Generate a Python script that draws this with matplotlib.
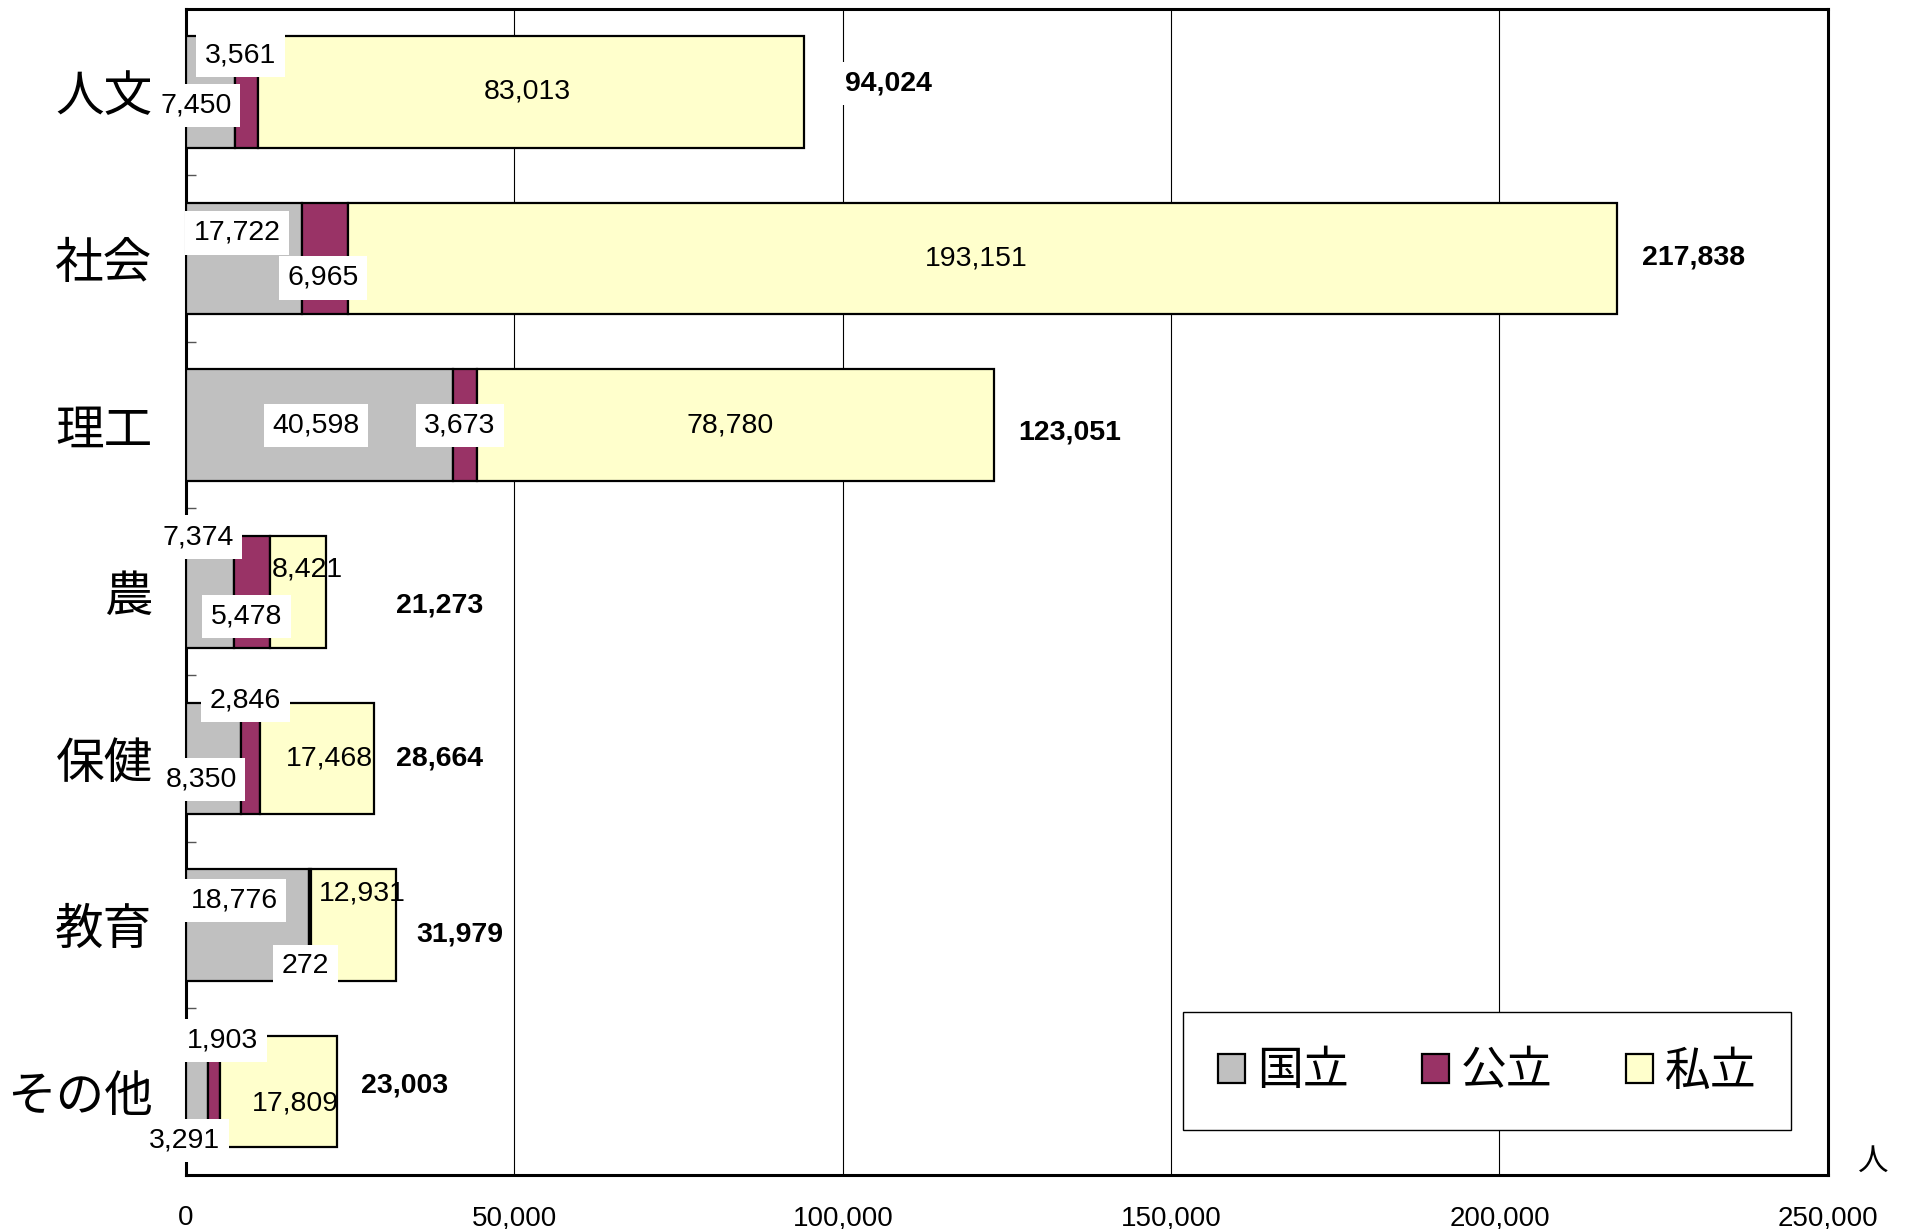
import numpy as np
import matplotlib
matplotlib.use("Agg")
import matplotlib.pyplot as plt
from matplotlib import font_manager

# data (people), per field of study
categories = ["人文", "社会", "理工", "農", "保健", "教育", "その他"]
national = [7450, 17722, 40598, 7374, 8350, 18776, 3291]
public = [3561, 6965, 3673, 5478, 2846, 272, 1903]
private = [83013, 193151, 78780, 8421, 17468, 12931, 17809]
series_names = ["国立", "公立", "私立"]
xticks = [0, 50000, 100000, 150000, 200000, 250000]

colors = ["#C0C0C0", "#993366", "#FFFFCC"]

# label nudges in points (dx, dy) relative to the segment centre
gray_off = [(-10.5, -9.6), (-5.3, 18.4), (-2.6, 0), (-8.8, 39.4),
            (-8.8, -14.9), (-9.6, 17.5), (-8.8, -35)]
purple_off = [(-4.4, 26.3), (-1.8, -14), (-3.5, 0), (-4.4, -17.5),
              (-3.5, 42), (-3.5, -29.8), (6.1, 36.8)]
yellow_off = [(-2.6, 0), (-4.4, 0), (-3.5, 0), (7, 15.8),
              (8.8, 0), (6.1, 22.8), (12.3, -8.8)]
total_off = [(29.8, 6.1), (18.4, 0.9), (17.5, -5.3), (50.8, -9.6),
             (15.8, 0), (14.9, -7), (17.5, 4.4)]


def _pick_font(names):
    installed = {f.name for f in font_manager.fontManager.ttflist}
    for n in names:
        if n in installed:
            return n
    return "DejaVu Sans"


num_font = _pick_font(["Liberation Sans Narrow", "Liberation Sans", "Arial"])
cjk_font = _pick_font(["Noto Sans CJK JP", "Noto Sans CJK SC"])

fig = plt.figure(figsize=(19.08, 12.29), dpi=100)
ax = fig.add_axes([0.0975, 0.044, 0.8605, 0.949])

national = np.array(national)
public = np.array(public)
private = np.array(private)
totals = national + public + private
y = np.arange(len(categories))

lefts = [np.zeros(len(y)), national, national + public]
for vals, left, col, name in zip([national, public, private], lefts,
                                 colors, series_names):
    ax.barh(y, vals, left=left, height=0.67, color=col,
            edgecolor="black", linewidth=1.6, label=name, zorder=3)

ax.set_ylim(len(y) - 0.5, -0.5)
ax.set_xlim(0, 250000)

ax.set_xticks(xticks)
ax.set_xticklabels([f"{v:,}" for v in xticks], fontsize=20,
                   family=num_font)
ax.tick_params(axis="x", length=0, pad=22)
ax.xaxis.grid(True, color="black", linewidth=0.8)
ax.set_axisbelow(True)

ax.set_yticks(y)
ax.set_yticklabels(categories, fontsize=35, family=cjk_font)
ax.tick_params(axis="y", which="major", length=0, pad=24)
ax.set_yticks(y[:-1] + 0.5, minor=True)
ax.tick_params(axis="y", which="minor", direction="in", length=7,
               width=1, color="#555555")

for s in ax.spines.values():
    s.set_linewidth(2.2)

box = dict(boxstyle="square,pad=0.3", facecolor="white", edgecolor="none")


def _label(x, yy, val, off, bg, bold=False, ha="center"):
    ax.annotate(f"{val:,}", (x, yy), xytext=off, textcoords="offset points",
                ha=ha, va="center", fontsize=20.5, family=num_font,
                fontweight="bold" if bold else "normal",
                bbox=bg, zorder=6, annotation_clip=False)


for i in range(len(y)):
    _label(national[i] / 2, y[i], national[i], gray_off[i], box)
    _label(national[i] + public[i] / 2, y[i], public[i], purple_off[i], box)
    _label(national[i] + public[i] + private[i] / 2, y[i], private[i],
           yellow_off[i], None)
    _label(totals[i], y[i], totals[i], total_off[i], box, bold=True,
           ha="left")

leg = ax.legend(loc="center", bbox_to_anchor=(0.7925, 0.089), ncol=3,
                prop={"family": cjk_font, "size": 33}, frameon=True,
                fancybox=False, edgecolor="black", framealpha=1,
                handlelength=0.6, handleheight=0.6, handletextpad=0.25,
                columnspacing=1.6, borderpad=0.75)
leg.get_frame().set_linewidth(1.0)
leg.set_zorder(7)
for h in leg.legend_handles:
    h.set_linewidth(1.6)

fig.text(0.982, 0.055, "人", fontsize=22, family=cjk_font,
         ha="center", va="center")

fig.savefig("out.png", dpi=100)
